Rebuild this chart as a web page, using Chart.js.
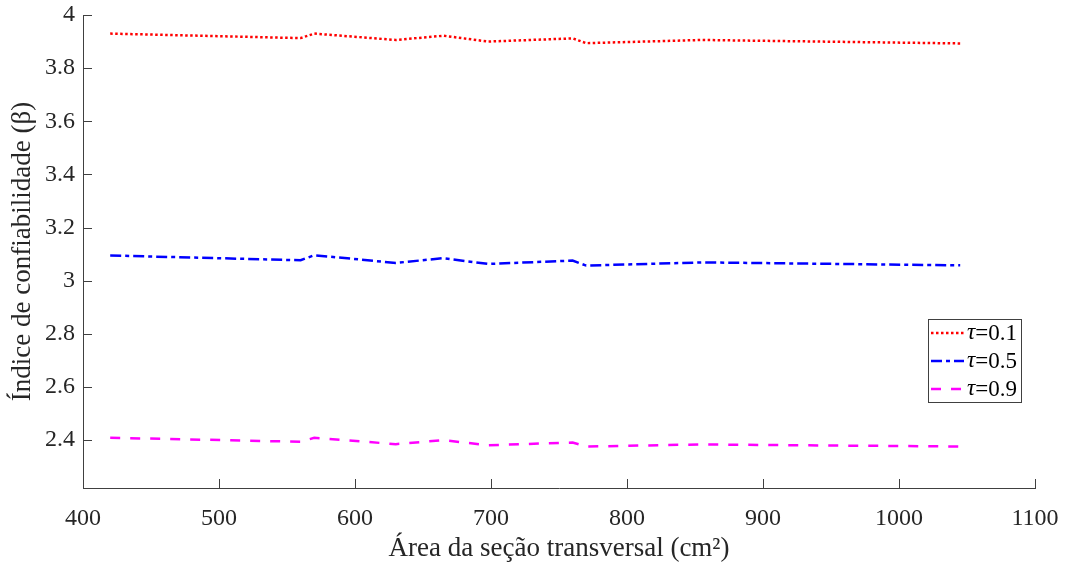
<!DOCTYPE html>
<html>
<head>
<meta charset="utf-8">
<script src="https://cdn.jsdelivr.net/npm/chart.js@4"></script>
<style>
  html, body { margin: 0; padding: 0; background: #fff; }
  #grafico { width: 1067px; height: 565px; }
</style>
</head>
<body>
<div id="grafico"><canvas id="canvaGrafico" width="1067" height="565"></canvas></div>
<script>
// área da seção transversal (cm2)
const areas = [420, 560, 570, 630, 665, 698, 760, 770, 855, 1045];
// índice de confiabilidade para cada tau
const beta01 = [3.930, 3.913, 3.930, 3.906, 3.922, 3.900, 3.912, 3.894, 3.906, 3.893];
const beta05 = [3.095, 3.077, 3.096, 3.067, 3.085, 3.063, 3.076, 3.057, 3.069, 3.058];
const beta09 = [2.409, 2.394, 2.409, 2.385, 2.400, 2.381, 2.391, 2.376, 2.384, 2.376];
const legendas = ['0.1', '0.5', '0.9'];
const xTicks = [400, 500, 600, 700, 800, 900, 1000, 1100];
const yTicks = [2.4, 2.6, 2.8, 3, 3.2, 3.4, 3.6, 3.8, 4];

const fonte = 'Liberation Serif, Times New Roman, serif';
const corTexto = '#262626';

function pontos(ys) {
    return areas.map((a, i) => ({ x: a, y: ys[i] }));
}

// ticks para dentro, estilo matlab, e a legenda dentro do gráfico
const estiloMatlab = {
    id: 'estiloMatlab',
    afterDraw(chart) {
        const ctx = chart.ctx;
        const area = chart.chartArea;
        const sx = chart.scales.x, sy = chart.scales.y;
        ctx.save();
        ctx.strokeStyle = '#404040';
        ctx.lineWidth = 1;
        ctx.beginPath();
        xTicks.forEach(v => {
            const px = Math.round(sx.getPixelForValue(v)) + 0.5;
            ctx.moveTo(px, area.bottom);
            ctx.lineTo(px, area.bottom - 9);
        });
        yTicks.forEach(v => {
            const py = Math.round(sy.getPixelForValue(v)) + 0.5;
            ctx.moveTo(area.left, py);
            ctx.lineTo(area.left + 9, py);
        });
        ctx.stroke();

        // legenda
        const bx = 928, by = 319, bw = 93, bh = 83;
        ctx.fillStyle = '#fff';
        ctx.fillRect(bx, by, bw, bh);
        ctx.strokeStyle = '#404040';
        ctx.strokeRect(bx + 0.5, by + 0.5, bw, bh);
        chart.data.datasets.forEach((ds, i) => {
            const yc = 333 + i * 28;
            ctx.strokeStyle = ds.borderColor;
            ctx.lineWidth = ds.borderWidth;
            ctx.setLineDash(ds.borderDash);
            ctx.beginPath();
            ctx.moveTo(931, yc);
            ctx.lineTo(964, yc);
            ctx.stroke();
            ctx.setLineDash([]);
            ctx.fillStyle = '#000';
            ctx.textBaseline = 'middle';
            ctx.font = 'italic 23px ' + fonte;
            ctx.fillText('τ', 967, yc);
            const w = ctx.measureText('τ').width;
            ctx.font = '23px ' + fonte;
            ctx.fillText('=' + legendas[i], 967 + w, yc + 1);
        });
        ctx.restore();
    }
};

const data = {
    datasets: [
        {
            label: 'τ=0.1',
            data: pontos(beta01),
            borderColor: '#ff0000',
            borderWidth: 2.5,
            borderDash: [2.5, 2.5],
            pointRadius: 0,
            fill: false,
            tension: 0
        },
        {
            label: 'τ=0.5',
            data: pontos(beta05),
            borderColor: '#0000ff',
            borderWidth: 2.5,
            borderDash: [11, 4, 4, 4],
            pointRadius: 0,
            fill: false,
            tension: 0
        },
        {
            label: 'τ=0.9',
            data: pontos(beta09),
            borderColor: '#ff00ff',
            borderWidth: 2.5,
            borderDash: [10, 10],
            pointRadius: 0,
            fill: false,
            tension: 0
        }
    ]
};

const config = {
    type: 'line',
    data: data,
    options: {
        responsive: false,
        animation: false,
        layout: { padding: { top: 15, right: 32, left: 0, bottom: 0 } },
        plugins: {
            legend: { display: false },
            tooltip: { enabled: false }
        },
        scales: {
            x: {
                type: 'linear',
                min: 400,
                max: 1100,
                afterBuildTicks: axis => { axis.ticks = xTicks.map(v => ({ value: v })); },
                afterFit: scale => {
                    scale.height = 77;
                    scale.paddingLeft = 0;
                    scale.paddingRight = 0;
                },
                grid: { display: false, drawTicks: false },
                border: { display: true, color: '#404040', width: 1 },
                ticks: {
                    padding: 16,
                    maxRotation: 0,
                    autoSkip: false,
                    color: corTexto,
                    font: { family: fonte, size: 24 },
                    callback: v => String(v)
                },
                title: {
                    display: true,
                    text: 'Área da seção transversal (cm²)',
                    color: corTexto,
                    padding: { top: 0, bottom: 0 },
                    font: { family: fonte, size: 27 }
                }
            },
            y: {
                min: 2.22,
                max: 4,
                afterBuildTicks: axis => { axis.ticks = yTicks.map(v => ({ value: v })); },
                afterFit: scale => {
                    scale.width = 83;
                    scale.paddingTop = 0;
                    scale.paddingBottom = 0;
                },
                grid: { display: false, drawTicks: false },
                border: { display: true, color: '#404040', width: 1 },
                ticks: {
                    padding: 8,
                    autoSkip: false,
                    color: corTexto,
                    font: { family: fonte, size: 24 },
                    callback: v => String(Math.round(v * 10) / 10)
                },
                title: {
                    display: true,
                    text: 'Índice de confiabilidade (β)',
                    color: corTexto,
                    padding: { top: 7, bottom: 0 },
                    font: { family: fonte, size: 27 }
                }
            }
        }
    },
    plugins: [estiloMatlab]
};

new Chart(document.getElementById('canvaGrafico'), config);
</script>
</body>
</html>
